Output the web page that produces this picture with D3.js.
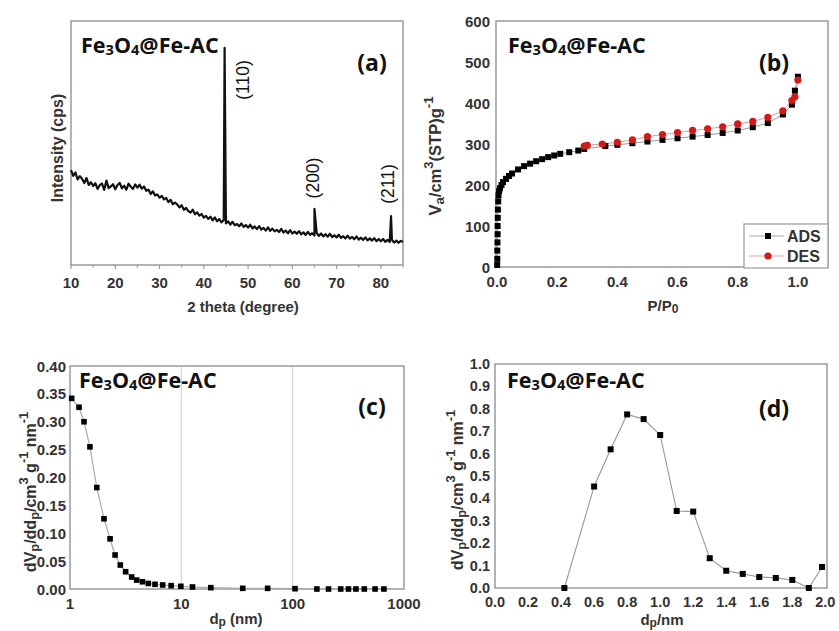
<!DOCTYPE html>
<html>
<head>
<meta charset="utf-8">
<script src="https://cdn.jsdelivr.net/npm/d3@7"></script>
<style>
  html, body { margin: 0; padding: 0; background: #fff; }
  svg { display: block; }
</style>
</head>
<body>
<svg id="fig" width="839" height="631"></svg>
<script>
// ---- (a) XRD pattern (2θ from 10° in 0.5° steps) ----
const xrdStart = 10, xrdStep = 0.5;
const xrdIntensity = [
  38.9, 36.5, 37.9, 35.1, 36.4, 35.3, 33.6, 35.7, 32.8, 33.9,
  32.4, 33.5, 31.2, 32.7, 33.4, 30.8, 34.6, 31.5, 32.2, 33.1,
  31.0, 32.8, 33.6, 31.4, 32.5, 30.9, 33.3, 32.1, 31.2, 33.0,
  31.7, 32.9, 31.3, 32.2, 30.4, 30.9, 29.1, 30.2, 28.5, 28.9,
  27.6, 28.3, 26.9, 27.5, 25.8, 26.7, 24.9, 25.6, 24.8, 23.6,
  24.5, 22.6, 23.4, 22.1, 21.5, 22.7, 20.8, 21.6, 20.2, 20.9,
  19.4, 20.1, 18.9, 19.8, 18.3, 19.5, 17.9, 18.8, 17.5, 18.4,
  17.0, 17.9, 16.6, 17.7, 16.3, 16.8, 15.9, 17.0, 15.6, 16.4,
  15.3, 16.5, 15.0, 15.8, 14.7, 15.9, 14.5, 15.2, 14.1, 15.4,
  14.0, 14.9, 13.8, 14.4, 13.5, 14.8, 13.3, 14.1, 13.0, 14.3,
  12.9, 13.7, 12.8, 13.9, 12.6, 13.4, 12.3, 13.6, 12.4, 13.0,
  12.1, 13.2, 11.9, 12.9, 11.7, 12.6, 11.6, 12.8, 11.4, 12.2,
  11.3, 12.4, 11.1, 11.8, 10.9, 12.0, 10.8, 11.5, 10.6, 11.7,
  10.4, 11.2, 10.3, 11.3, 10.1, 10.9, 10.0, 11.0, 9.8, 10.6,
  9.7, 10.7, 9.5, 10.3, 9.4, 10.2, 9.2, 10.0, 9.1, 9.9,
  9.4
];
const xrdPeakPos = [44.7, 65.0, 82.3];
const xrdPeakInt = [89, 23, 20];
const xrdPeakHkl = ["(110)", "(200)", "(211)"];
const xrdTicks = [10, 20, 30, 40, 50, 60, 70, 80];

// ---- (b) N2 adsorption / desorption isotherm ----
const adsP = [0.0005, 0.001, 0.001, 0.0015, 0.002, 0.002, 0.0025, 0.003, 0.004, 0.005,
  0.007, 0.01, 0.015, 0.02, 0.03, 0.04, 0.05, 0.07, 0.09, 0.11, 0.13, 0.15, 0.17,
  0.19, 0.21, 0.24, 0.27, 0.29, 0.36, 0.40, 0.45, 0.50, 0.55, 0.60, 0.65, 0.70,
  0.75, 0.80, 0.85, 0.90, 0.95, 0.98, 0.99, 1.00];
const adsV = [5, 20, 40, 60, 80, 100, 120, 140, 160, 175,
  185, 192, 200, 207, 215, 222, 228, 238, 246, 252, 258, 263, 268,
  272, 276, 280, 284, 288, 295, 298, 302, 306, 310, 314, 318, 322,
  327, 333, 341, 351, 372, 396, 430, 464];
const desP = [0.29, 0.30, 0.35, 0.40, 0.45, 0.50, 0.55, 0.60, 0.65, 0.70, 0.75,
  0.80, 0.85, 0.90, 0.95, 0.98, 0.99, 1.00];
const desV = [295, 297, 300, 304, 310, 318, 323, 328, 333, 337, 342,
  349, 355, 365, 381, 406, 415, 456];
const isoXTicks = [0, 0.2, 0.4, 0.6, 0.8, 1.0];
const isoYTicks = [0, 100, 200, 300, 400, 500, 600];

// ---- (c) BJH pore size distribution ----
const bjhD = [1.035, 1.205, 1.336, 1.51, 1.74, 2.02, 2.29, 2.54, 2.83, 3.16, 3.58,
  3.97, 4.47, 5.05, 5.8, 6.8, 8.1, 9.9, 12.6, 18.4, 35.6, 59.6, 105, 165, 210,
  270, 317, 370, 440, 550, 660];
const bjhDv = [0.342, 0.326, 0.300, 0.255, 0.182, 0.126, 0.090, 0.061, 0.043, 0.031,
  0.0215, 0.016, 0.013, 0.010, 0.0084, 0.0072, 0.006, 0.0048, 0.0036, 0.0024,
  0.0012, 0.0012, 0.0005, 0, 0, 0, 0, 0, 0, 0, 0];
const bjhXTicks = [1, 10, 100, 1000];
const bjhYTicks = [0, 0.05, 0.10, 0.15, 0.20, 0.25, 0.30, 0.35, 0.40];

// ---- (d) micropore size distribution ----
const mpD = [0.42, 0.6, 0.7, 0.8, 0.9, 1.0, 1.1, 1.2, 1.3, 1.4, 1.5, 1.6, 1.7, 1.8, 1.9, 1.98];
const mpDv = [0.0, 0.453, 0.619, 0.775, 0.754, 0.683, 0.344, 0.341, 0.133, 0.077,
  0.063, 0.049, 0.045, 0.036, 0.0, 0.094];
const mpXTicks = [0, 0.2, 0.4, 0.6, 0.8, 1.0, 1.2, 1.4, 1.6, 1.8, 2.0];
const mpYTicks = [0, 0.1, 0.2, 0.3, 0.4, 0.5, 0.6, 0.7, 0.8, 0.9, 1.0];

const svg = d3.select("#fig");
const TICK_FONT = "'Liberation Sans', Arial, sans-serif";
const TITLE_FONT = "'Open Sans', 'Noto Sans', sans-serif";
const FRAME = "#9a9a9a";
const TICK_COLOR = "#333";

// Rich text from [string, mode] segments (mode: n, sub, sup)
function richText(sel, segs, size, opt = {}) {
  const subK = opt.sub ?? 0.25, supK = opt.sup ?? -0.42, scale = opt.scale ?? 0.8;
  let shift = 0;
  segs.forEach(([t, m]) => {
    const target = m === "sub" ? size * subK : m === "sup" ? size * supK : 0;
    sel.append("tspan")
      .attr("dy", target - shift)
      .attr("font-size", m === "n" ? size : size * scale)
      .text(t);
    shift = target;
  });
  return sel;
}

function frame(g, x0, x1, y0, y1) {
  g.append("rect").attr("x", x0).attr("y", y0)
    .attr("width", x1 - x0).attr("height", y1 - y0)
    .attr("fill", "none").attr("stroke", FRAME).attr("stroke-width", 1.5);
}

function sampleName(g, x, y) {
  const t = g.append("text").attr("x", x).attr("y", y)
    .attr("font-family", TITLE_FONT).attr("font-weight", 700).attr("fill", "#111");
  richText(t, [["Fe", "n"], ["3", "sub"], ["O", "n"], ["4", "sub"], ["@Fe-AC", "n"]], 21.5,
    { sub: 0.1, scale: 0.68 });
}

function panelTag(g, x, y, s) {
  g.append("text").attr("x", x).attr("y", y)
    .attr("font-family", TITLE_FONT).attr("font-weight", 700)
    .attr("font-size", 23).attr("fill", "#111").attr("text-anchor", "middle")
    .text(s);
}

function xLabels(g, scale, ticks, y, fmt, size = 15) {
  g.selectAll(null).data(ticks).enter().append("text")
    .attr("x", d => scale(d)).attr("y", y)
    .attr("text-anchor", "middle").attr("dominant-baseline", "central")
    .attr("font-family", TICK_FONT).attr("font-weight", 700).attr("font-size", size)
    .attr("fill", TICK_COLOR).text(fmt);
}

function yLabels(g, scale, ticks, x, fmt, size = 15) {
  g.selectAll(null).data(ticks).enter().append("text")
    .attr("x", x).attr("y", d => scale(d))
    .attr("text-anchor", "end").attr("dominant-baseline", "central")
    .attr("font-family", TICK_FONT).attr("font-weight", 700).attr("font-size", size)
    .attr("fill", TICK_COLOR).text(fmt);
}

function axisTitle(g, x, y, segs, rotate, size = 15) {
  const t = g.append("text")
    .attr("transform", `translate(${x},${y})` + (rotate ? " rotate(-90)" : ""))
    .attr("text-anchor", "middle").attr("dominant-baseline", "central")
    .attr("font-family", TICK_FONT).attr("font-weight", 700).attr("fill", TICK_COLOR);
  richText(t, segs, size);
}

// ================= (a) =================
(function () {
  const g = svg.append("g");
  const x = d3.scaleLinear().domain([10, 85]).range([71, 403]);
  const y = d3.scaleLinear().domain([0, 100]).range([265, 21]);
  const pts = xrdIntensity.map((v, i) => [xrdStart + i * xrdStep, v])
    .concat(xrdPeakPos.map((p, i) => [p, xrdPeakInt[i]]))
    .sort((a, b) => a[0] - b[0]);

  // major and minor ticks below the axis
  const minor = [15, 25, 35, 45, 55, 65, 75, 85];
  g.selectAll(null).data(xrdTicks).enter().append("line")
    .attr("x1", d => x(d)).attr("x2", d => x(d)).attr("y1", 265).attr("y2", 269)
    .attr("stroke", FRAME).attr("stroke-width", 1.2);
  g.selectAll(null).data(minor).enter().append("line")
    .attr("x1", d => x(d)).attr("x2", d => x(d)).attr("y1", 265).attr("y2", 267.5)
    .attr("stroke", FRAME).attr("stroke-width", 1.2);
  frame(g, 71, 403, 21, 265);

  g.append("path").datum(pts)
    .attr("d", d3.line().x(d => x(d[0])).y(d => y(d[1])))
    .attr("fill", "none").attr("stroke", "#111").attr("stroke-width", 2.2)
    .attr("stroke-linejoin", "round");

  const hklDx = [18, -1, -3];
  const hklCy = [80, 178, 184];
  xrdPeakHkl.forEach((s, i) => {
    g.append("text")
      .attr("transform", `translate(${x(xrdPeakPos[i]) + hklDx[i]},${hklCy[i]}) rotate(-90)`)
      .attr("text-anchor", "middle").attr("dominant-baseline", "central")
      .attr("font-family", TICK_FONT).attr("font-size", 17.5).attr("fill", "#111")
      .text(s);
  });

  xLabels(g, x, xrdTicks, 282, d => d);
  axisTitle(g, 243, 306, [["2 theta (degree)", "n"]], false);
  axisTitle(g, 57, 148, [["Intensity (cps)", "n"]], true, 16);
  sampleName(g, 81, 53);
  panelTag(g, 372, 71, "(a)");
})();

// ================= (b) =================
(function () {
  const g = svg.append("g");
  const x = d3.scaleLinear().domain([0, 1.1]).range([497, 828]);
  const y = d3.scaleLinear().domain([0, 600]).range([267, 21]);
  frame(g, 496, 828, 21, 267);

  const ads = adsP.map((p, i) => [p, adsV[i]]);
  const des = desP.map((p, i) => [p, desV[i]]);
  const line = d3.line().x(d => x(d[0])).y(d => y(d[1]));
  g.append("path").datum(ads).attr("d", line).attr("fill", "none")
    .attr("stroke", "#999").attr("stroke-width", 1);
  g.append("path").datum(des).attr("d", line).attr("fill", "none")
    .attr("stroke", "#d9a0a0").attr("stroke-width", 1);

  g.selectAll(null).data(ads).enter().append("rect")
    .attr("x", d => x(d[0]) - 3).attr("y", d => y(d[1]) - 3)
    .attr("width", 6).attr("height", 6).attr("fill", "#000");
  g.selectAll(null).data(des).enter().append("circle")
    .attr("cx", d => x(d[0])).attr("cy", d => y(d[1])).attr("r", 3.6)
    .attr("fill", "#d11a1a");

  // legend
  const lg = g.append("g");
  lg.append("rect").attr("x", 744).attr("y", 224).attr("width", 84).attr("height", 44)
    .attr("fill", "#fff").attr("stroke", FRAME).attr("stroke-width", 1.2);
  lg.append("line").attr("x1", 749).attr("x2", 784).attr("y1", 236).attr("y2", 236)
    .attr("stroke", "#aaa").attr("stroke-width", 1);
  lg.append("rect").attr("x", 765).attr("y", 233).attr("width", 6).attr("height", 6).attr("fill", "#000");
  lg.append("line").attr("x1", 749).attr("x2", 784).attr("y1", 256).attr("y2", 256)
    .attr("stroke", "#e0a8a8").attr("stroke-width", 1);
  lg.append("circle").attr("cx", 768).attr("cy", 256).attr("r", 3.6).attr("fill", "#d11a1a");
  [["ADS", 236], ["DES", 256]].forEach(([s, yy]) => {
    lg.append("text").attr("x", 787).attr("y", yy).attr("dominant-baseline", "central")
      .attr("font-family", TICK_FONT).attr("font-weight", 700).attr("font-size", 16)
      .attr("fill", TICK_COLOR).text(s);
  });

  xLabels(g, x, isoXTicks, 281, d3.format(".1f"));
  yLabels(g, y, isoYTicks, 490, d => d);
  axisTitle(g, 663, 305, [["P/P", "n"], ["0", "sub"]], false);
  axisTitle(g, 435, 156, [["V", "n"], ["a", "sub"], ["/cm", "n"], ["3", "sup"],
    ["(STP)g", "n"], ["-1", "sup"]], true, 16.5);
  sampleName(g, 508, 53);
  panelTag(g, 774, 71, "(b)");
})();

// ================= (c) =================
(function () {
  const g = svg.append("g");
  const x = d3.scaleLog().domain([1, 1000]).range([70, 404]);
  const y = d3.scaleLinear().domain([0, 0.4]).range([589, 366]);
  g.selectAll(null).data([10, 100]).enter().append("line")
    .attr("x1", d => x(d)).attr("x2", d => x(d)).attr("y1", 366).attr("y2", 589)
    .attr("stroke", "#d4d4d4").attr("stroke-width", 1.2);
  frame(g, 70, 404, 366, 589);

  const pts = bjhD.map((d, i) => [d, bjhDv[i]]);
  g.append("path").datum(pts)
    .attr("d", d3.line().x(d => x(d[0])).y(d => y(d[1])))
    .attr("fill", "none").attr("stroke", "#aaa").attr("stroke-width", 1.2);
  g.selectAll(null).data(pts).enter().append("rect")
    .attr("x", d => x(d[0]) - 2.8).attr("y", d => y(d[1]) - 2.8)
    .attr("width", 5.6).attr("height", 5.6).attr("fill", "#000");

  xLabels(g, x, bjhXTicks, 603, d => d);
  yLabels(g, y, bjhYTicks, 66, d3.format(".2f"));
  axisTitle(g, 236, 618, [["d", "n"], ["p", "sub"], [" (nm)", "n"]], false);
  axisTitle(g, 30, 492, [["dV", "n"], ["p", "sub"], ["/dd", "n"], ["p", "sub"],
    ["/cm", "n"], ["3", "sup"], [" g", "n"], ["-1", "sup"], [" nm", "n"], ["-1", "sup"]], true, 16);
  sampleName(g, 79, 388);
  panelTag(g, 372, 415, "(c)");
})();

// ================= (d) =================
(function () {
  const g = svg.append("g");
  const x = d3.scaleLinear().domain([0, 2.01]).range([495, 827]);
  const y = d3.scaleLinear().domain([0, 1]).range([588, 364]);
  frame(g, 495, 827, 364, 588);

  const pts = mpD.map((d, i) => [d, mpDv[i]]);
  g.append("path").datum(pts)
    .attr("d", d3.line().x(d => x(d[0])).y(d => y(d[1])))
    .attr("fill", "none").attr("stroke", "#999").attr("stroke-width", 1.1);
  g.selectAll(null).data(pts).enter().append("rect")
    .attr("x", d => x(d[0]) - 3).attr("y", d => y(d[1]) - 3)
    .attr("width", 6).attr("height", 6).attr("fill", "#000");

  xLabels(g, x, mpXTicks, 602, d3.format(".1f"), 14.5);
  yLabels(g, y, mpYTicks, 490, d3.format(".1f"), 14.5);
  axisTitle(g, 662, 619, [["d", "n"], ["p", "sub"], ["/nm", "n"]], false);
  axisTitle(g, 457, 490, [["dV", "n"], ["p", "sub"], ["/dd", "n"], ["p", "sub"],
    ["/cm", "n"], ["3", "sup"], [" g", "n"], ["-1", "sup"], [" nm", "n"], ["-1", "sup"]], true, 16);
  sampleName(g, 507, 388);
  panelTag(g, 774, 417, "(d)");
})();
</script>
</body>
</html>
